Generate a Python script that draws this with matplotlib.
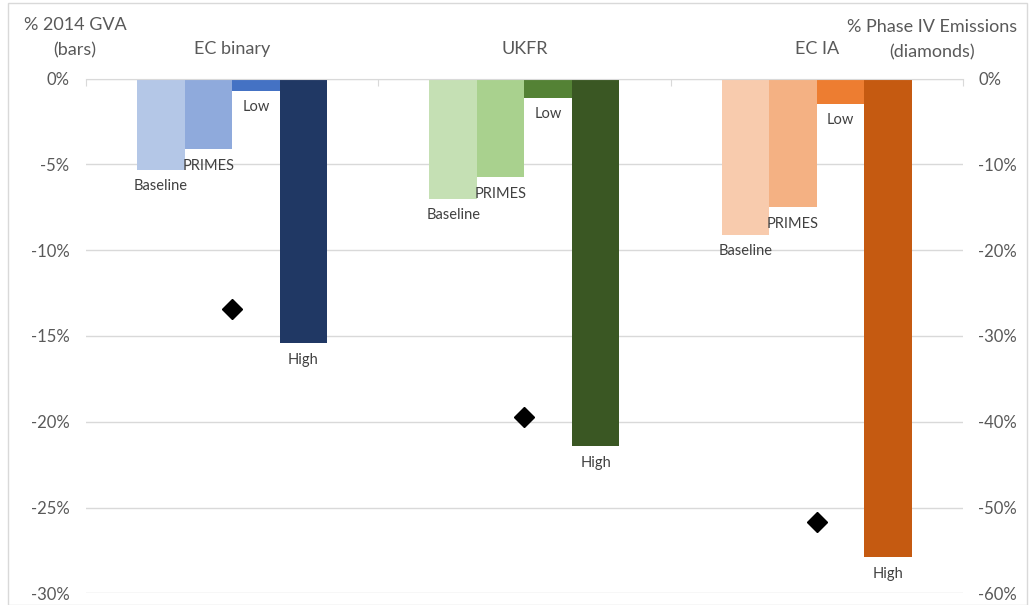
import numpy as np
import matplotlib
matplotlib.use('Agg')
import matplotlib.pyplot as plt
from matplotlib.patches import Rectangle
from matplotlib.ticker import FuncFormatter

plt.rcParams['font.family'] = ['Lato', 'DejaVu Sans']

# data
groups = ['EC binary', 'UKFR', 'EC IA']
scenarios = ['Baseline', 'PRIMES', 'Low', 'High']
gva = {
    'EC binary': [-5.3, -4.1, -0.7, -15.4],
    'UKFR': [-7.0, -5.75, -1.1, -21.4],
    'EC IA': [-9.1, -7.5, -1.45, -27.9],
}
emissions = [-26.8, -39.5, -51.7]
colors = {
    'EC binary': ['#B4C7E7', '#8FAADC', '#4472C4', '#203864'],
    'UKFR': ['#C5E0B4', '#A9D18E', '#548235', '#3A5723'],
    'EC IA': ['#F8CBAD', '#F4B183', '#ED7D31', '#C55A11'],
}

grey = '#595959'
fig = plt.figure(figsize=(10.32, 6.05), dpi=100)
ax = fig.add_axes([0.0833, 0.0193, 0.8497, 0.8507])
ax2 = ax.twinx()

w = 0.1625
x = np.arange(len(groups))
for i, g in enumerate(groups):
    for j, s in enumerate(scenarios):
        xi = x[i] + (j - 1.5) * w
        v = gva[g][j]
        ax.bar(xi, v, width=w, color=colors[g][j], zorder=2)
        ax.annotate(s, (xi, v), xytext=(0, -7), textcoords='offset points',
                    ha='center', va='top', fontsize=10.5, color='#404040')
    # group title above the plot
    ax.annotate(g, (x[i], 0), xytext=(0, 21), textcoords='offset points',
                ha='center', va='center', fontsize=13, color=grey)

ax2.plot(x, emissions, linestyle='none', marker='D', markersize=10,
         color='black', zorder=3)

ax.set_xlim(-0.5, 2.5)
ax.set_ylim(-30, 0)
ax2.set_ylim(-60, 0)
ax.set_yticks(np.arange(-30, 1, 5))
ax2.set_yticks(np.arange(-60, 1, 10))
pct = FuncFormatter(lambda v, p: '%d%%' % round(v))
ax.yaxis.set_major_formatter(pct)
ax2.yaxis.set_major_formatter(pct)
ax.grid(axis='y', color='#D9D9D9', linewidth=1, zorder=0)
ax.set_axisbelow(True)

ax.xaxis.set_ticks_position('top')
ax.set_xticks([-0.5, 0.5, 1.5, 2.5])
ax.set_xticklabels([])
ax.tick_params(axis='x', direction='in', length=5, color='#D9D9D9')
for a in (ax, ax2):
    for sp in a.spines.values():
        sp.set_visible(False)
ax.spines['top'].set_visible(True)
ax.spines['top'].set_color('#D9D9D9')
ax.tick_params(axis='y', length=0, labelsize=12, labelcolor=grey, pad=12)
ax2.tick_params(axis='y', length=0, labelsize=12, labelcolor=grey, pad=11)

fig.text(75 / 1032, 1 - 25 / 605, '% 2014 GVA', ha='center', va='center',
         fontsize=13, color=grey)
fig.text(75 / 1032, 1 - 50 / 605, '(bars)', ha='center', va='center',
         fontsize=13, color=grey)
fig.text(932 / 1032, 1 - 27 / 605, '% Phase IV Emissions', ha='center',
         va='center', fontsize=13, color=grey)
fig.text(932 / 1032, 1 - 52 / 605, '(diamonds)', ha='center', va='center',
         fontsize=13, color=grey)

fig.patches.append(Rectangle((8 / 1032, 0), 1019 / 1032, 1 - 3 / 605,
                             transform=fig.transFigure, fill=False,
                             edgecolor='#D9D9D9', linewidth=1))

fig.savefig('out.png', dpi=100)
